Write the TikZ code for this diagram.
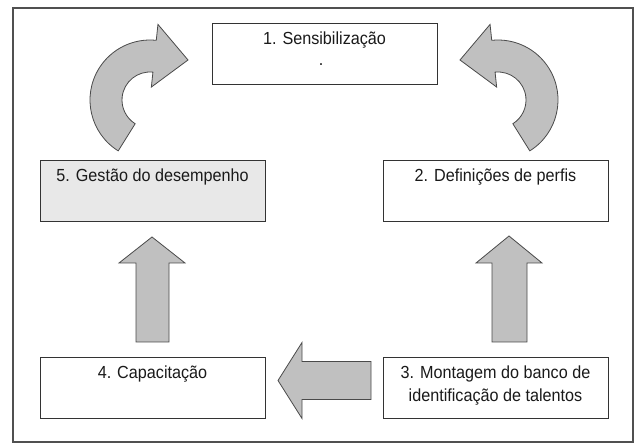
\documentclass[tikz,border=0pt]{standalone}
\usepackage{fontspec}
\setmainfont{Liberation Sans}[FakeStretch=0.925]
\usetikzlibrary{calc}
\definecolor{arrowfill}{HTML}{C0C0C0}
\definecolor{arrowline}{HTML}{4A4A4A}
\definecolor{boxline}{HTML}{333333}
\definecolor{graybox}{HTML}{E8E8E8}
\definecolor{txt}{HTML}{1A1A1A}
\definecolor{framegray}{HTML}{505050}
\begin{document}
\begin{tikzpicture}[x=1pt,y=1pt,
  box/.style={draw=boxline, line width=0.9pt, rectangle, minimum width=225pt, minimum height=61pt, inner sep=0pt, fill=white},
  lbl/.style={anchor=base, inner sep=0pt, text=txt, font=\fontsize{17.5}{23}\selectfont},
  blockarrow/.style={fill=arrowfill, draw=arrowline, line width=0.8pt, line join=miter},
  frameline/.style={draw=framegray, line width=1.2pt}]
\useasboundingbox (0,0) rectangle (636,444);
\draw[frameline] (13,2) rectangle (633,436);

% boxes
\node[box] (b1) at (324.5,390.5) {};
\node[box] (b2) at (495.5,253.5) {};
\node[box] (b3) at (495.5,56.5) {};
\node[box] (b4) at (152.5,56.5) {};
\node[box, fill=graybox] (b5) at (152.5,253.5) {};

% labels
\node[lbl] (t1) at ([yshift=-22pt]b1.north) {1. Sensibilização};
\node[lbl] (d1) at (321,378) {.};
\node[lbl] (t2) at ([yshift=-22pt]b2.north) {2. Definições de perfis};
\node[lbl] (t3a) at ([yshift=-22pt]b3.north) {3. Montagem do banco de};
\node[lbl] (t3b) at ([yshift=-45pt]b3.north) {identificação de talentos};
\node[lbl] (t4) at ([yshift=-22pt]b4.north) {4. Capacitação};
\node[lbl] (t5) at ([yshift=-22pt]b5.north) {5. Gestão do desempenho};

% curved arrows
\coordinate (cl) at (150,344);
\coordinate (cr) at (498,344);
\coordinate (tipl) at (188,384);
\coordinate (tipr) at (460,384);
\draw[blockarrow] ($(cl)+(238:60pt)$) arc[start angle=238, end angle=84, radius=60pt]
  -- ($(cl)+(84:76pt)$) -- (tipl) -- ($(cl)+(84:13pt)$) -- ($(cl)+(84:28pt)$)
  arc[start angle=84, end angle=238, radius=28pt] -- cycle;
\draw[blockarrow] ($(cr)+(-58:60pt)$) arc[start angle=-58, end angle=96, radius=60pt]
  -- ($(cr)+(96:76pt)$) -- (tipr) -- ($(cr)+(96:13pt)$) -- ($(cr)+(96:28pt)$)
  arc[start angle=96, end angle=-58, radius=28pt] -- cycle;

% straight block arrows
\draw[blockarrow] (136,102) -- (136,181) -- (119,181) -- (152,207) -- (185,181) -- (169,181) -- (169,102) -- cycle;
\draw[blockarrow] (492,102) -- (492,181) -- (476,181) -- (509,208) -- (542,181) -- (527,181) -- (527,102) -- cycle;
\draw[blockarrow] (371,44.5) -- (302,44.5) -- (302,25.5) -- (278,63.5) -- (302,101.5) -- (302,82.5) -- (371,82.5) -- cycle;
\end{tikzpicture}
\end{document}
